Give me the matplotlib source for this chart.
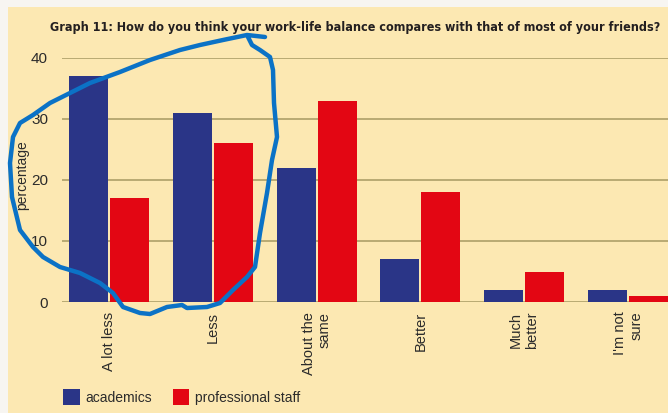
import matplotlib
matplotlib.use("Agg")
import matplotlib.pyplot as plt
from matplotlib.patches import Rectangle, Patch
import numpy as np

# survey answers, share of respondents in %
answers = ["A lot less", "Less", "About the\nsame", "Better", "Much\nbetter", "I'm not\nsure"]
academics = [37, 31, 22, 7, 2, 2]
professional_staff = [17, 26, 33, 18, 5, 1]
y_ticks = [0, 10, 20, 30, 40]

# pen loop drawn over the first two groups (figure pixels, 668x413)
loop_px = [(265, 37), (247, 35), (223, 40), (200, 45), (180, 50), (150, 60),
           (120, 72), (90, 83), (70, 93), (50, 103), (33, 115), (20, 123),
           (13, 137), (10, 163), (12, 197), (20, 230), (33, 247), (43, 257),
           (60, 267), (80, 273), (100, 283), (113, 293), (123, 307), (140, 313),
           (150, 314), (167, 307), (182, 305), (187, 308), (207, 307), (220, 303),
           (233, 290), (247, 277), (255, 267), (260, 233), (267, 193), (272, 160),
           (277, 137), (274, 103), (273, 70), (270, 57), (260, 50), (252, 45),
           (248, 37)]

plt.rcParams["font.family"] = ["Liberation Sans", "DejaVu Sans"]

BLUE = "#2a3587"
RED = "#e30613"
PANEL = "#fce8b2"
GRID = "#b3a56e"
TEXT = "#2b2b2b"

W, H = 668, 413
fig = plt.figure(figsize=(W / 100, H / 100), dpi=100)
fig.patch.set_facecolor("#f7f5f1")
fig.patches.append(Rectangle((8 / W, 0), 1 - 8 / W, 1 - 7 / H,
                             transform=fig.transFigure, facecolor=PANEL,
                             edgecolor="none", zorder=-5))

ax = fig.add_axes([62 / W, 1 - 302 / H, (W - 62) / W, (302 - 58) / H])
ax.set_facecolor("none")

x = np.arange(len(answers))
bw = 0.376
ax.bar(x - 0.197, academics, bw, color=BLUE, zorder=3, label="academics")
ax.bar(x + 0.197, professional_staff, bw, color=RED, zorder=3, label="professional staff")

ax.set_xlim(-0.453, 5.385)
ax.set_ylim(0, 40)
ax.set_yticks(y_ticks)
ax.yaxis.grid(True, color=GRID, linewidth=1.3, zorder=1)
ax.set_axisbelow(True)
for s in ax.spines.values():
    s.set_visible(False)
ax.tick_params(axis="y", length=0, pad=10, labelsize=11, labelcolor=TEXT)
ax.tick_params(axis="x", length=0, pad=7, labelsize=10.5, labelcolor=TEXT)
ax.set_xticks(x)
ax.set_xticklabels(answers, rotation=90, va="top", ha="center")
for lab in ax.get_xticklabels():
    lab.set_multialignment("right")

fig.text(22 / W, 1 - 175 / H, "percentage", rotation=90, ha="center", va="center",
         fontsize=10, color=TEXT)
fig.text(355 / W, 1 - 27 / H,
         "Graph 11: How do you think your work-life balance compares with that of most of your friends?",
         ha="center", va="center", fontsize=9, fontweight="bold", color="#231f20",
         family="DejaVu Sans", fontstretch="condensed")

handles = [Patch(facecolor=BLUE, label="academics"),
           Patch(facecolor=RED, label="professional staff")]
fig.legend(handles=handles, loc="center left", bbox_to_anchor=(63 / W, 1 - 397 / H),
           ncol=2, frameon=False, fontsize=10, handlelength=1.2, handleheight=1.4,
           handletextpad=0.4, columnspacing=1.5, borderaxespad=0, borderpad=0,
           labelcolor=TEXT)

lx = [p[0] / W for p in loop_px]
ly = [1 - p[1] / H for p in loop_px]
fig.add_artist(plt.Line2D(lx, ly, transform=fig.transFigure, color="#0b72c6",
                          linewidth=3.2, solid_joinstyle="round",
                          solid_capstyle="round", zorder=10))

fig.savefig("out.png", dpi=100, facecolor=fig.get_facecolor())
